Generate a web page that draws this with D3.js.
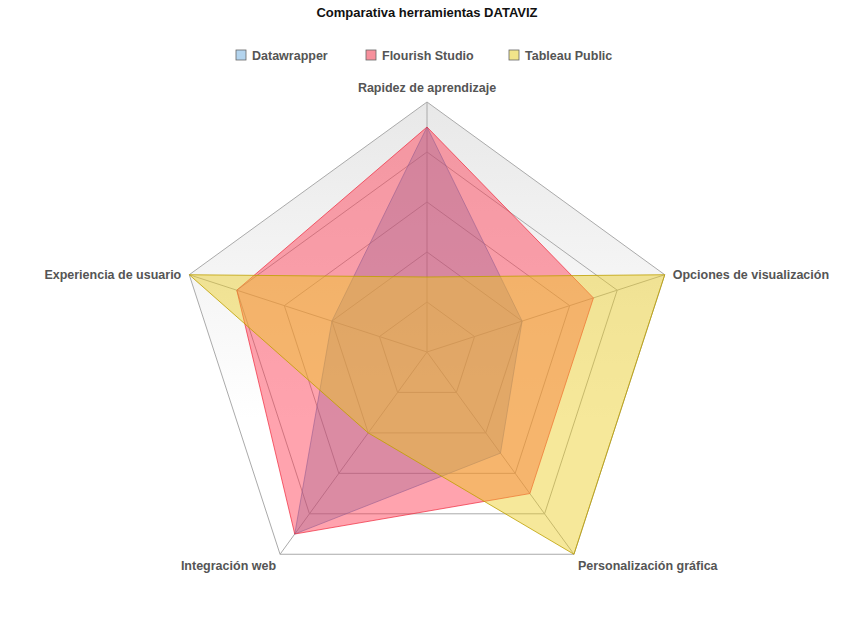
<!DOCTYPE html>
<html><head><meta charset="utf-8">
<script src="https://cdn.jsdelivr.net/npm/d3@7"></script>
<style>body{margin:0;background:#fff;font-family:Arial,"Liberation Sans",sans-serif}</style>
</head><body><svg id="chart" width="853" height="628"></svg>
<script>
const axes = ['Rapidez de aprendizaje', 'Opciones de visualización', 'Personalización gráfica', 'Integración web', 'Experiencia de usuario'];
const seriesNames = ['Datawrapper', 'Flourish Studio', 'Tableau Public'];
const datawrapper = [4.5, 2, 2.5, 4.5, 2];
const flourish = [4.5, 3.5, 3.5, 4.5, 4];
const tableau = [1.5, 5, 5, 2, 5];
const levels = [1, 2, 3, 4, 5];
const fills = ['rgba(70,130,200,0.35)', 'rgba(255,50,75,0.45)', 'rgba(235,205,30,0.45)'];
const strokes = ['rgba(70,130,200,0.6)', 'rgba(240,40,60,0.7)', 'rgba(190,160,0,0.8)'];
const legendSwatch = ['#b3d4ee', '#f7909c', '#f1e48a'];

const svg = d3.select('#chart');
const cx = 427, cy = 352, R = 250;
const r = d3.scaleLinear().domain([0, 5]).range([0, R]);
const ang = d3.scaleLinear().domain([0, axes.length]).range([0, 2 * Math.PI]);
const pt = (i, v) => [cx + r(v) * Math.sin(ang(i)), cy - r(v) * Math.cos(ang(i))];
const poly = vals => vals.map((v, i) => pt(i, v).join(',')).join(' ');

const grad = svg.append('defs').append('linearGradient').attr('id', 'bg').attr('x1', 0).attr('y1', 0).attr('x2', 0).attr('y2', 1);
grad.append('stop').attr('offset', '0%').attr('stop-color', '#e8e8e8');
grad.append('stop').attr('offset', '70%').attr('stop-color', '#ffffff');

svg.append('polygon').attr('points', poly(axes.map(() => 5))).attr('fill', 'url(#bg)');

levels.forEach(l => {
  svg.append('polygon').attr('points', poly(axes.map(() => l)))
    .attr('fill', 'none').attr('stroke', '#aaa').attr('stroke-width', 1);
});
axes.forEach((a, i) => {
  const [x, y] = pt(i, 5);
  svg.append('line').attr('x1', cx).attr('y1', cy).attr('x2', x).attr('y2', y).attr('stroke', '#aaa');
});

[datawrapper, flourish, tableau].forEach((vals, k) => {
  svg.append('polygon').attr('points', poly(vals))
    .attr('fill', fills[k]).attr('stroke', strokes[k]).attr('stroke-width', 1);
});

// axis labels
const lab = [[0, -10, 'middle'], [8, 4, 'start'], [4, 16, 'start'], [-4, 16, 'end'], [-8, 4, 'end']];
axes.forEach((a, i) => {
  const [x, y] = pt(i, 5);
  svg.append('text').attr('x', x + lab[i][0]).attr('y', y + lab[i][1])
    .attr('text-anchor', lab[i][2]).attr('font-size', 12.5).attr('font-weight', 'bold')
    .attr('fill', '#555').text(a);
});

svg.append('text').attr('x', cx).attr('y', 17).attr('text-anchor', 'middle')
  .attr('font-size', 13).attr('font-weight', 'bold').attr('fill', '#111').text('Comparativa herramientas DATAVIZ');

const lx = [236, 366, 509];
seriesNames.forEach((s, k) => {
  svg.append('rect').attr('x', lx[k]).attr('y', 50).attr('width', 10).attr('height', 10)
    .attr('fill', legendSwatch[k]).attr('stroke', '#666').attr('stroke-width', 0.8);
  svg.append('text').attr('x', lx[k] + 16).attr('y', 60).attr('font-size', 12.5)
    .attr('font-weight', 'bold').attr('fill', '#555').text(s);
});
</script></body></html>
